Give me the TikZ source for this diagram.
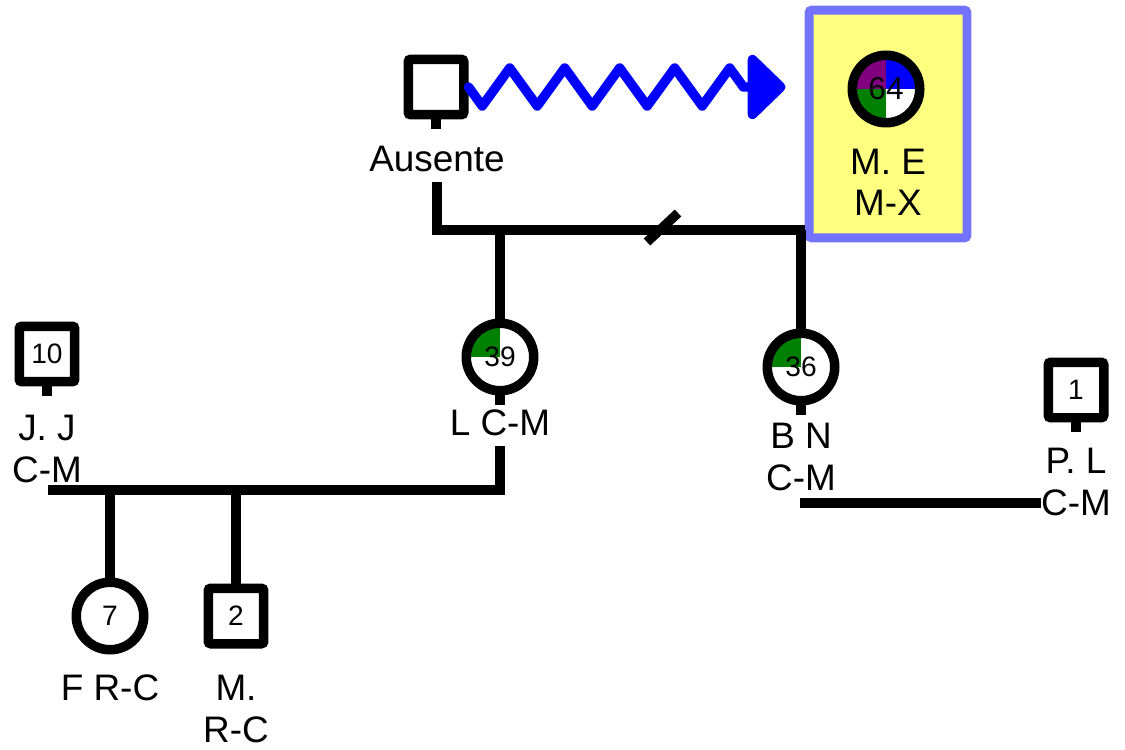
\documentclass[tikz,border=0pt]{standalone}
\usepackage{fontspec}
\setmainfont{Liberation Sans}
\usetikzlibrary{arrows.meta,decorations.pathmorphing}

\definecolor{geneGreen}{HTML}{008000}
\definecolor{genePurple}{HTML}{800080}
\definecolor{geneBlue}{HTML}{0000FF}
\definecolor{boxYellow}{HTML}{FFFF80}
\definecolor{boxBlue}{HTML}{7373FF}

\begin{document}
\begin{tikzpicture}[
      x=0.02cm, y=-0.02cm,
      every node/.style={align=center, inner sep=0pt},
      sym/.style={draw, line width=.19cm, fill=white, font=\fontsize{16}{18}\selectfont},
      male/.style={sym, rectangle, rounded corners=.05cm, minimum size=1.11cm},
      female/.style={sym, circle, minimum size=1.35cm},
      quarter/.style={path picture={\fill[#1] (path picture bounding box.center) rectangle (path picture bounding box.north west);}},
      quads/.style={path picture={
          \fill[genePurple] (path picture bounding box.center) rectangle (path picture bounding box.north west);
          \fill[geneBlue] (path picture bounding box.center) rectangle (path picture bounding box.north east);
          \fill[geneGreen] (path picture bounding box.center) rectangle (path picture bounding box.south west);}},
      personlab/.style={font=\fontsize{21}{23.5}\selectfont},
      link/.style={line width=.19cm},
      zig/.style={geneBlue, line width=.19cm, line join=round, line cap=round, decorate,
          decoration={zigzag, amplitude=.38cm, segment length=1.1cm, mirror}},
      zigtip/.style={geneBlue, line width=.19cm, -{Triangle[length=.8cm, width=1.5cm, round]}}
    ]
      \useasboundingbox (0,0) rectangle (1125,750);

      \node[male] (aus) at (436,87) {};
      \node[personlab] (aus lab) at (437,159) {Ausente};
      \node[draw=boxBlue, fill=boxYellow, line width=.18cm, rounded corners=.06cm,
            minimum width=3.16cm, minimum height=4.56cm] (me box) at (888,124) {};
      \node[female, quads, font=\fontsize{18}{20}\selectfont] (me) at (886,89) {64};
      \node[personlab] (me lab) at (888,182) {M. E\\M-X};

      \node[female, quarter=geneGreen] (lcm) at (500,357) {39};
      \node[personlab] (lcm lab) at (500,423) {L C-M};
      \node[female, quarter=geneGreen] (bn) at (801,367) {36};
      \node[personlab] (bn lab) at (801,457) {B N\\C-M};
      \node[male] (jj) at (47,354) {10};
      \node[personlab] (jj lab) at (47,449) {J. J\\C-M};
      \node[male] (pl) at (1076,390) {1};
      \node[personlab] (pl lab) at (1076,482) {P. L\\C-M};
      \node[female] (fr) at (110,616) {7};
      \node[personlab] (fr lab) at (110,688) {F R-C};
      \node[male] (mr) at (236,616) {2};
      \node[personlab] (mr lab) at (236,709) {M.\\R-C};

      \coordinate (zig end) at (750,87);
      \coordinate (couple1) at (805,230);
      \coordinate (couple2) at (48,490);
      \coordinate (couple3) at (800,503);

      % relationship lines
      \draw[zig] (aus.east) -- (zig end);
      \draw[zigtip] (zig end) -- ([xshift=-.38cm]me box.west |- zig end);
      \draw[link, shorten <=.2cm] (aus lab.south) |- (couple1);
      \draw[link] (647,242) -- (678,213);
      \draw[link] (lcm.north) -- (lcm.north |- couple1);
      \draw[link] (bn.north) -- (bn.north |- couple1);
      \draw[link, shorten <=.2cm] (lcm lab.south) |- (couple2);
      \draw[link] (fr.north) -- (fr.north |- couple2);
      \draw[link] (mr.north) -- (mr.north |- couple2);
      \draw[link] (couple3) -- (pl lab.west |- couple3);

      % stubs
      \foreach \n in {aus, lcm, bn, jj, pl}
        \draw[link] (\n.south) -- ++(0,10);
    \end{tikzpicture}
\end{document}
